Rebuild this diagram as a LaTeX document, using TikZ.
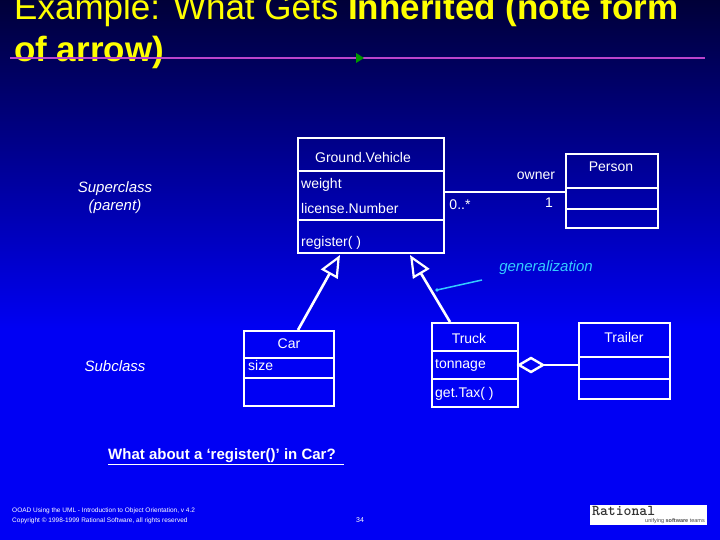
\documentclass[tikz,border=0pt]{standalone}
\usepackage{fontspec}
\setmainfont{Liberation Sans}
\usetikzlibrary{arrows.meta}
\definecolor{bgtop}{HTML}{000038}
\definecolor{bgbot}{HTML}{0000F4}
\definecolor{cy}{HTML}{33CCFF}
\definecolor{tyel}{HTML}{FFFF00}
\definecolor{purp}{HTML}{BB44CC}
\begin{document}
\begin{tikzpicture}[x=1pt,y=-1pt,
  cls/.style={draw=white,line width=2.2pt},
  txt/.style={text=white,font=\fontsize{14}{16}\selectfont,inner sep=0pt},
  gen/.style={draw=white,line width=2.6pt,-{Triangle[open,length=22pt,width=19pt,line width=2.2pt]}}]
\useasboundingbox (0,0) rectangle (720,540);
\fill[bgbot] (0,0) rectangle (720,540);
\shade[top color=bgtop,bottom color=bgbot] (0,0) rectangle (720,330);
% title
\node[anchor=west,text=tyel,inner sep=0pt,font=\fontsize{35}{36}\selectfont] (t1) at (14,10) {Example: What Gets \textbf{Inherited (note form}};
\node[anchor=west,text=tyel,inner sep=0pt,font=\fontsize{35}{36}\selectfont\bfseries] (t2) at (14,52) {of arrow)};
\coordinate (la) at (10,58); \coordinate (lb) at (705,58);
\draw[purp,line width=1.5pt] (la) -- (lb);
\fill[green!60!black] (356,53) -- (364,58) -- (356,63) -- cycle;
% GroundVehicle
\draw[cls] (298,138) rectangle (444,253);
\draw[cls] (298,171) -- (444,171); \draw[cls] (298,220) -- (444,220);
\node[txt] (gvn) at (363,157) {Ground.Vehicle};
\node[txt,anchor=west] (gva) at (301,185) {weight};
\node[txt,anchor=west] (gvb) at (301,208) {license.Number};
\node[txt,anchor=west] (gvc) at (301,243) {register( )};
\coordinate (gvr) at (444,192);
\coordinate (gvl) at (340,255); \coordinate (gvm) at (410,255);
% Person
\draw[cls] (566,154) rectangle (658,228);
\draw[cls] (566,188) -- (658,188); \draw[cls] (566,209) -- (658,209);
\node[txt] (pn) at (611,167) {Person};
\coordinate (pl) at (566,192);
\draw[white,line width=2.2pt] (gvr) -- (pl);
\node[txt] (own) at (536,176) {owner};
\node[txt] (m1) at (460,205) {0..*};
\node[txt] (m2) at (549,203) {1};
% Car
\draw[cls] (244,331) rectangle (334,406);
\draw[cls] (244,358) -- (334,358); \draw[cls] (244,378) -- (334,378);
\node[txt] (cn) at (289,344) {Car};
\node[txt,anchor=west] (cs) at (248,365) {size};
\coordinate (ct) at (298,330);
% Truck
\draw[cls] (432,323) rectangle (518,407);
\draw[cls] (432,351) -- (518,351); \draw[cls] (432,379) -- (518,379);
\node[txt] (tn) at (469,338) {Truck};
\node[txt,anchor=west] (ta) at (435,365) {tonnage};
\node[txt,anchor=west] (tb) at (435,394) {get.Tax( )};
\coordinate (tt) at (450,322);
% Trailer
\draw[cls] (579,323) rectangle (670,399);
\draw[cls] (579,357) -- (670,357); \draw[cls] (579,379) -- (670,379);
\node[txt] (trn) at (624,337) {Trailer};
\coordinate (trl) at (579,365);
% generalizations
\draw[gen] (ct) -- (gvl);
\draw[gen] (tt) -- (gvm);
% aggregation
\draw[white,line width=2.4pt] (trl) -- (543,365);
\draw[white,line width=2.4pt] (519,365) -- (531,358) -- (543,365) -- (531,372) -- cycle;
% generalization label
\node[text=cy,font=\fontsize{15}{16}\selectfont\itshape,inner sep=0pt] (gl) at (546,268) {generalization};
\coordinate (gp) at (437,290);
\draw[cy,line width=1.5pt] (gp) -- (482,280);
\fill[cy] (gp) circle (1.8pt);
% side labels
\node[text=white,font=\fontsize{15}{18}\selectfont\itshape,align=center,inner sep=0pt] (sup) at (115,198) {Superclass\\(parent)};
\node[text=white,font=\fontsize{15}{16}\selectfont\itshape,inner sep=0pt] (sub) at (115,366) {Subclass};
\node[text=white,font=\fontsize{15}{16}\selectfont\bfseries,inner sep=0pt,anchor=west] (q) at (108,457) {\underline{What about a ‘register()’ in Car?\ \ }};
% footer
\node[text=white,font=\fontsize{6.5}{10}\selectfont,align=left,anchor=west,inner sep=0pt] (ft) at (12,516) {OOAD Using the UML - Introduction to Object Orientation, v 4.2\\Copyright \textcopyright{} 1998-1999 Rational Software, all rights reserved};
\node[text=white,font=\fontsize{7}{8}\selectfont,inner sep=0pt] (pg) at (360,520) {34};
\fill[white] (590,505) rectangle (707,525);
\node[font=\fontsize{15}{15}\selectfont\ttfamily\bfseries,inner sep=0pt,text=black!80,anchor=west] (lg) at (592,511) {Rational};
\node[font=\fontsize{5.5}{6}\selectfont,inner sep=0pt,text=black!70,anchor=east] (lg2) at (705,521.5) {unifying \textbf{software} teams};
\end{tikzpicture}
\end{document}
